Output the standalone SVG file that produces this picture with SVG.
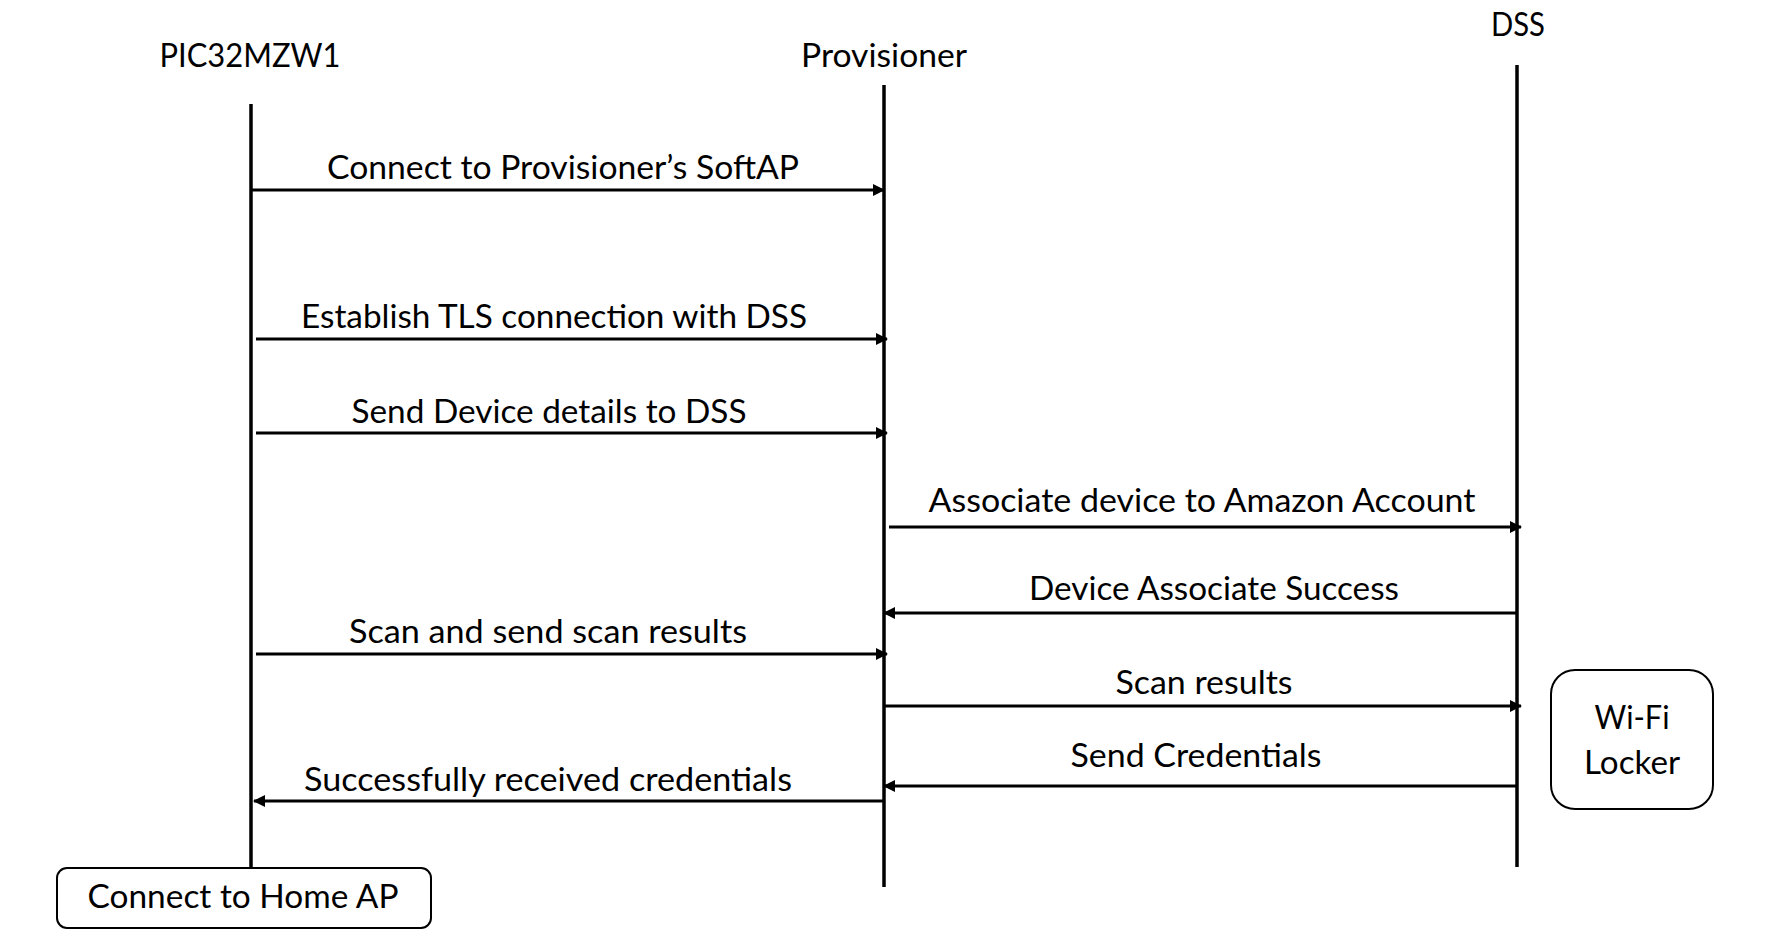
<svg xmlns="http://www.w3.org/2000/svg" width="1772" height="952" viewBox="0 0 1772 952">
<style>
text{font-family:Lato,"Liberation Sans",Arial,sans-serif;font-size:32px;fill:#000;text-anchor:middle}
.life{stroke:#000;stroke-width:3.5;fill:none}
.msg{stroke:#000;stroke-width:3;fill:none;marker-end:url(#ah)}
.box{fill:#fff;stroke:#000;stroke-width:2}
</style>
<defs>
<marker id="ah" markerUnits="userSpaceOnUse" markerWidth="12" markerHeight="12" refX="11" refY="6" orient="auto">
<path d="M0,0 L12,6 L0,12 Z" fill="#000"/>
</marker>
</defs>
<rect width="1772" height="952" fill="#fff"/>
<g id="pic32mzw1">
<text x="250" y="67" textLength="181" lengthAdjust="spacingAndGlyphs">PIC32MZW1</text>
<line class="life" x1="251" y1="104" x2="251" y2="868"/>
</g>
<g id="provisioner">
<text x="884" y="67" textLength="166" lengthAdjust="spacingAndGlyphs">Provisioner</text>
<line class="life" x1="884" y1="85" x2="884" y2="887"/>
</g>
<g id="dss">
<text x="1518" y="36" textLength="54" lengthAdjust="spacingAndGlyphs">DSS</text>
<line class="life" x1="1517" y1="65" x2="1517" y2="867"/>
</g>
<g id="home-ap">
<rect class="box" x="57" y="868" width="374" height="60" rx="10"/>
<text x="243" y="908" textLength="311" lengthAdjust="spacingAndGlyphs">Connect to Home AP</text>
</g>
<g id="wifi-locker">
<rect class="box" x="1551" y="670" width="162" height="139" rx="24"/>
<text x="1632" y="729" textLength="75" lengthAdjust="spacingAndGlyphs">Wi-Fi</text>
<text x="1632" y="774" textLength="96" lengthAdjust="spacingAndGlyphs">Locker</text>
</g>
<g id="connectors">
<path class="msg" d="M251,190 H884"/>
<text x="563" y="179" textLength="472" lengthAdjust="spacingAndGlyphs">Connect to Provisioner’s SoftAP</text>
<path class="msg" d="M256,339 H887"/>
<text x="554" y="328" textLength="506" lengthAdjust="spacingAndGlyphs">Establish TLS connection with DSS</text>
<path class="msg" d="M256,433 H887"/>
<text x="549" y="423" textLength="395" lengthAdjust="spacingAndGlyphs">Send Device details to DSS</text>
<path class="msg" d="M889,527 H1521"/>
<text x="1202" y="512" textLength="547" lengthAdjust="spacingAndGlyphs">Associate device to Amazon Account</text>
<path class="msg" d="M1517,613 H884"/>
<text x="1214" y="600" textLength="370" lengthAdjust="spacingAndGlyphs">Device Associate Success</text>
<path class="msg" d="M256,654 H887"/>
<text x="548" y="643" textLength="398" lengthAdjust="spacingAndGlyphs">Scan and send scan results</text>
<path class="msg" d="M884,706 H1521"/>
<text x="1204" y="694" textLength="177" lengthAdjust="spacingAndGlyphs">Scan results</text>
<path class="msg" d="M1517,786 H884"/>
<text x="1196" y="767" textLength="251" lengthAdjust="spacingAndGlyphs">Send Credentials</text>
<path class="msg" d="M885,801 H254"/>
<text x="548" y="791" textLength="488" lengthAdjust="spacingAndGlyphs">Successfully received credentials</text>
</g>
</svg>
